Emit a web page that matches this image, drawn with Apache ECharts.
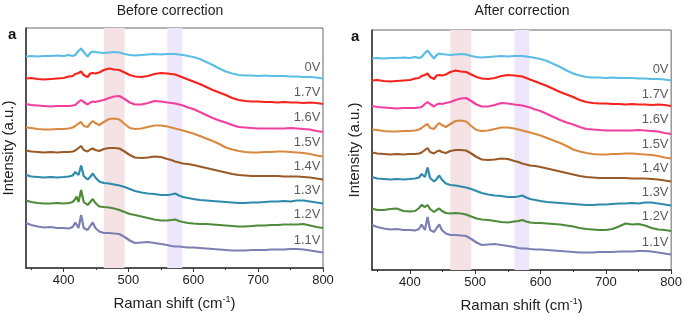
<!DOCTYPE html>
<html>
<head>
<meta charset="utf-8">
<script src="https://cdn.jsdelivr.net/npm/echarts@6/dist/echarts.min.js"></script>
<style>
  html, body { margin: 0; padding: 0; background: #fff; }
  #chart { width: 685px; height: 318px; }
</style>
</head>
<body>
<div id="chart"></div>
<script>
// Raman shift positions (cm-1) shared by every trace
const ramanShift = [342, 350, 360, 370, 380, 390, 400, 408, 414, 418, 420, 423, 427, 431, 437, 441, 445, 449, 455, 462,
  470, 478, 486, 494, 502, 510, 520, 530, 540, 550, 560, 566, 572, 578, 584, 592, 600, 610, 620, 630,
  640, 650, 660, 670, 680, 690, 700, 710, 720, 730, 740, 750, 760, 770, 780, 790, 800]

// intensities (a.u., stacked offsets included), before correction
const before0V = [211.5, 212, 211.5, 212, 212, 212.5, 212, 213, 212, 213, 214, 217, 219.5, 216, 211.5, 215, 216.5, 216, 215.5, 215,
  215.5, 216, 215.5, 214, 213, 212.5, 213, 213.5, 214, 213.5, 214, 214, 214, 213.5, 213, 212, 211, 209, 206, 203,
  199.5, 196.5, 194.5, 193, 192.5, 192.5, 192, 192.5, 192, 192, 192, 191.5, 191.5, 191, 191, 190.5, 189.5]
const before17V = [189.5, 190, 189, 188.5, 189, 189.5, 190, 191.5, 192, 194, 194.5, 195, 196.5, 193, 191, 194.5, 195, 194.5, 195.5, 198,
  199.5, 198.5, 198, 195.5, 193, 191.5, 191, 192, 194, 195, 194.5, 194, 193.5, 192, 190.5, 188.5, 186.5, 184, 181, 178,
  175.5, 173, 170, 168, 167, 166.5, 166.5, 166, 166, 165.5, 166, 165.5, 165.5, 165, 165.5, 165, 164]
const before16V = [164, 163, 162.5, 162, 161.5, 162, 162, 162, 162.5, 163, 164, 166, 168, 166, 163.5, 165.5, 166.5, 166, 167, 168,
  170, 171.5, 172, 169, 165.5, 163.5, 163.5, 165, 167, 166.5, 165.5, 165, 164.5, 163.5, 162.5, 160.5, 159, 156, 153, 150,
  147.5, 145.5, 143, 141, 140.5, 140, 139.5, 139.5, 139.5, 139.5, 139.5, 140, 139.5, 139, 138.5, 137, 136]
const before15V = [140.5, 140, 139, 138.5, 138.5, 139, 139, 139.5, 140.5, 142, 143, 144.5, 146, 142, 141, 144.5, 147, 145, 143, 146,
  149, 149.5, 148.5, 144, 140, 139, 139.5, 141, 142.5, 142.5, 141.5, 140.5, 139.5, 138.5, 137.5, 136, 134.5, 132, 129.5, 127,
  124, 120.5, 118.5, 117, 116, 115.5, 115.5, 116, 116, 116.5, 116.5, 116, 115.5, 115, 114, 112.5, 111.5]
const before14V = [117.5, 116.5, 116, 115.5, 116, 115.5, 116, 116, 116.5, 117.5, 119, 120, 122, 118, 116.5, 118.5, 119.5, 118, 117, 119,
  120, 120, 119.5, 116.5, 113, 110.5, 110, 110.5, 111.5, 111, 109, 108, 106.5, 105.5, 104.5, 104, 103, 101.5, 100, 98.5,
  97, 95.5, 94, 93, 92.5, 92, 92, 92, 92, 92, 91.5, 91.5, 91.5, 91, 90.5, 89.5, 88.5]
const before13V = [93, 91.5, 91, 90.5, 91, 90.5, 91, 91.5, 92.5, 96, 98, 93, 102.5, 92, 88.5, 91, 94.5, 90.5, 86.5, 85,
  84.5, 83.5, 82.5, 81, 79, 77, 75.5, 74.5, 74, 73, 73, 73.5, 74.5, 72.5, 71, 70, 69, 68, 67.5, 67,
  66.5, 66, 65.5, 65, 65, 65.5, 65.5, 66, 66.5, 66.5, 67, 66.5, 67.5, 67.5, 66.5, 65.5, 64.5]
const before12V = [67.5, 66, 65, 64.5, 64.5, 65, 64.5, 65, 66, 69, 71.5, 66, 78, 66, 63, 66, 69, 65, 61.5, 61,
  60.5, 59.5, 58, 56, 54, 53, 51.5, 50, 48.5, 47.5, 47.5, 48, 48.5, 47, 46, 45, 44.5, 44, 44, 43.5,
  43, 42.5, 42, 41.5, 41.5, 42, 42.5, 42.5, 43, 43, 43.5, 43.5, 43.5, 44, 42.5, 41, 40]
const before11V = [45, 43, 41.5, 40.5, 41, 40, 40, 39.5, 41, 45.5, 46.5, 40, 53, 40, 38, 42, 45.5, 40, 36.5, 35,
  35, 34.5, 34, 31, 27.5, 25, 25.5, 26, 25, 24, 23, 22, 21.5, 21.5, 21, 20.5, 20.5, 20, 19.5, 19,
  18.5, 18, 17.5, 17.5, 17.5, 18, 18, 18, 18.5, 18.5, 18.5, 19, 19, 18.5, 17.5, 16.5, 15.5]

// after correction: only the 1.2V trace visibly changes
const after0V = before0V
const after17V = before17V
const after16V = before16V
const after15V = before15V
const after14V = before14V
const after13V = before13V
const after12V = [61.5, 60, 60, 61, 61.5, 59, 58.5, 59, 62, 65, 66, 63, 65, 61, 58, 60, 61.5, 59, 57, 56.5,
  57, 56.5, 55.5, 53.5, 51.5, 50.5, 50, 49, 48, 47.5, 48.5, 49, 50, 48.5, 47.5, 47, 47, 46.5, 46, 45.5,
  44.5, 43.5, 42, 41, 40.5, 40, 40, 41, 43.5, 46.5, 45.5, 46, 44.5, 42, 40.5, 40, 39]
const after11V = before11V

const voltages = ['0V', '1.7V', '1.6V', '1.5V', '1.4V', '1.3V', '1.2V', '1.1V']
const colors = ['#5bbce4', '#f5231c', '#f23f9f', '#d98a40', '#9a5a28', '#2f8bab', '#4e8b3a', '#7d7fb3']
const labelY = [201, 176, 150.5, 125.5, 101.5, 77.5, 54, 28]
const labelX = 796
const bands = [[462, 494], [560, 583]]
const bandColors = ['#f4e2e4', '#eee6fb']
const xTicks = [400, 500, 600, 700, 800]
const xMinorTicks = [350, 450, 550, 650, 750]

const panels = [
  { title: 'Before correction', traces: [before0V, before17V, before16V, before15V, before14V, before13V, before12V, before11V] },
  { title: 'After correction', traces: [after0V, after17V, after16V, after15V, after14V, after13V, after12V, after11V] }
]

const font = 'Liberation Sans, Arial, sans-serif'
const chart = echarts.init(document.getElementById('chart'))

const grids = [
  { left: 24, top: 28, width: 299, height: 240 },
  { left: 372, top: 30, width: 300, height: 240 }
]

const xAxes = []
const yAxes = []
const series = []

panels.forEach((p, i) => {
  xAxes.push({
    type: 'value', gridIndex: i, min: 342, max: 800,
    axisLine: { show: true, onZero: false, lineStyle: { color: '#333', width: 1.5 } },
    axisTick: { show: true, length: 4, customValues: xTicks, lineStyle: { color: '#333' } },
    axisLabel: { customValues: xTicks, margin: 6, fontSize: 13, color: '#222', fontFamily: font },
    splitLine: { show: false },
    name: 'Raman shift (cm{sup|-1})',
    nameLocation: 'middle', nameGap: 27,
    nameTextStyle: {
      fontSize: 15, color: '#222', fontFamily: font,
      rich: { sup: { fontSize: 9, verticalAlign: 'top', color: '#222', fontFamily: font, padding: [0, 0, 8, 0] } }
    }
  })
  xAxes.push({
    type: 'value', gridIndex: i, min: 342, max: 800, position: 'bottom',
    axisLine: { show: false },
    axisTick: { show: true, length: 2, customValues: xMinorTicks, lineStyle: { color: '#333' } },
    axisLabel: { show: false },
    splitLine: { show: false }
  })
  yAxes.push({
    type: 'value', gridIndex: i, min: 0, max: 240,
    axisLine: { show: true, lineStyle: { color: '#333', width: 1.5 } },
    axisTick: { show: false }, axisLabel: { show: false }, splitLine: { show: false },
    name: 'Intensity (a.u.)', nameLocation: 'middle', nameGap: 10,
    nameTextStyle: { fontSize: 15, color: '#222', fontFamily: font }
  })

  // shaded bands
  series.push({
    type: 'line', xAxisIndex: i * 2, yAxisIndex: i, data: [], z: 1, silent: true,
    markArea: {
      silent: true,
      data: bands.map((b, k) => [{ xAxis: b[0], itemStyle: { color: bandColors[k] } }, { xAxis: b[1] }])
    }
  })

  p.traces.forEach((t, k) => {
    series.push({
      type: 'line', name: voltages[k], xAxisIndex: i * 2, yAxisIndex: i, z: 3,
      data: ramanShift.map((x, j) => [x, t[j]]),
      showSymbol: false, symbol: 'none',
      lineStyle: { color: colors[k], width: 2.2 }
    })
  })

  series.push({
    type: 'scatter', xAxisIndex: i * 2, yAxisIndex: i, z: 4, symbolSize: 0, silent: true,
    data: voltages.map((v, k) => ({ value: [labelX, labelY[k]], name: v })),
    label: { show: true, position: 'left', distance: 0, formatter: '{b}', fontSize: 13, color: '#333', fontFamily: font }
  })
})

const option = {
  animation: false,
  textStyle: { fontFamily: font },
  title: [
    { text: panels[0].title, left: 165, top: -1, textAlign: 'center', textStyle: { fontSize: 14, fontWeight: 'normal', color: '#222', fontFamily: font } },
    { text: panels[1].title, left: 517, top: -1, textAlign: 'center', textStyle: { fontSize: 14, fontWeight: 'normal', color: '#222', fontFamily: font } },
    { text: 'a', left: 3, top: 22, textStyle: { fontSize: 15, fontWeight: 'bold', color: '#111', fontFamily: font } },
    { text: 'a', left: 346, top: 24, textStyle: { fontSize: 15, fontWeight: 'bold', color: '#111', fontFamily: font } }
  ],
  grid: grids.map(g => Object.assign({ show: true, borderColor: '#666', borderWidth: 1 }, g)),
  xAxis: xAxes,
  yAxis: yAxes,
  series: series
}

chart.setOption(option)
</script>
</body>
</html>
